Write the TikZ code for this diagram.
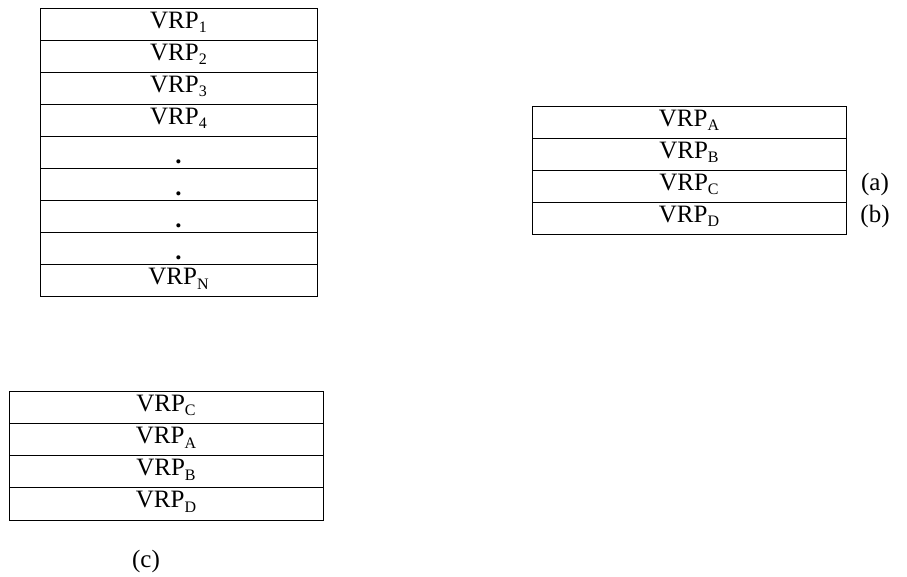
\documentclass[tikz,border=0pt]{standalone}
\usepackage{fontspec}
\setmainfont{Liberation Serif}
\newcommand\subtag[1]{\raisebox{-0.17em}{\fontsize{16}{16}\selectfont #1}}
\newcommand\vrp[1]{VRP\subtag{#1}}
\newcommand\rowdot{\raisebox{-7pt}{\textbf{.}}}
\begin{document}
\begin{tikzpicture}[x=1pt,y=-1pt,
  cell/.style={draw=black, line width=0.9pt, rectangle, inner sep=0pt,
    minimum height=32.1pt, text height=14pt, text depth=6pt,
    font=\fontsize{25}{28}\selectfont},
  cellA/.style={cell, minimum width=277pt},
  cellB/.style={cell, minimum width=314pt},
  tag/.style={inner sep=0pt, text height=14pt, text depth=6pt,
    font=\fontsize{25}{28}\selectfont}]
\useasboundingbox (0,0) rectangle (907,577);

% list of all candidates, N rows
\node[cellA] (l1) at (178.5,24.05)  {\vrp{1}};
\node[cellA] (l2) at (178.5,56.15)  {\vrp{2}};
\node[cellA] (l3) at (178.5,88.25)  {\vrp{3}};
\node[cellA] (l4) at (178.5,120.35) {\vrp{4}};
\node[cellA] (l5) at (178.5,152.45) {\rowdot};
\node[cellA] (l6) at (178.5,184.55) {\rowdot};
\node[cellA] (l7) at (178.5,216.65) {\rowdot};
\node[cellA] (l8) at (178.5,248.75) {\rowdot};
\node[cellA] (l9) at (178.5,280.85) {\vrp{N}};

% selected subset
\node[cellB] (s1) at (689,122.1) {\vrp{A}};
\node[cellB] (s2) at (689,154.3) {\vrp{B}};
\node[cellB] (s3) at (689,186.5) {\vrp{C}};
\node[cellB] (s4) at (689,218.7) {\vrp{D}};
\node[tag] (ta) at (875,186.5) {(a)};
\node[tag] (tb) at (875,218.7) {(b)};

% reordered subset
\node[cellB] (r1) at (166,407.65) {\vrp{C}};
\node[cellB] (r2) at (166,439.75) {\vrp{A}};
\node[cellB] (r3) at (166,471.85) {\vrp{B}};
\node[cellB] (r4) at (166,503.95) {\vrp{D}};
\node[tag] (tc) at (146,563) {(c)};
\end{tikzpicture}
\end{document}
